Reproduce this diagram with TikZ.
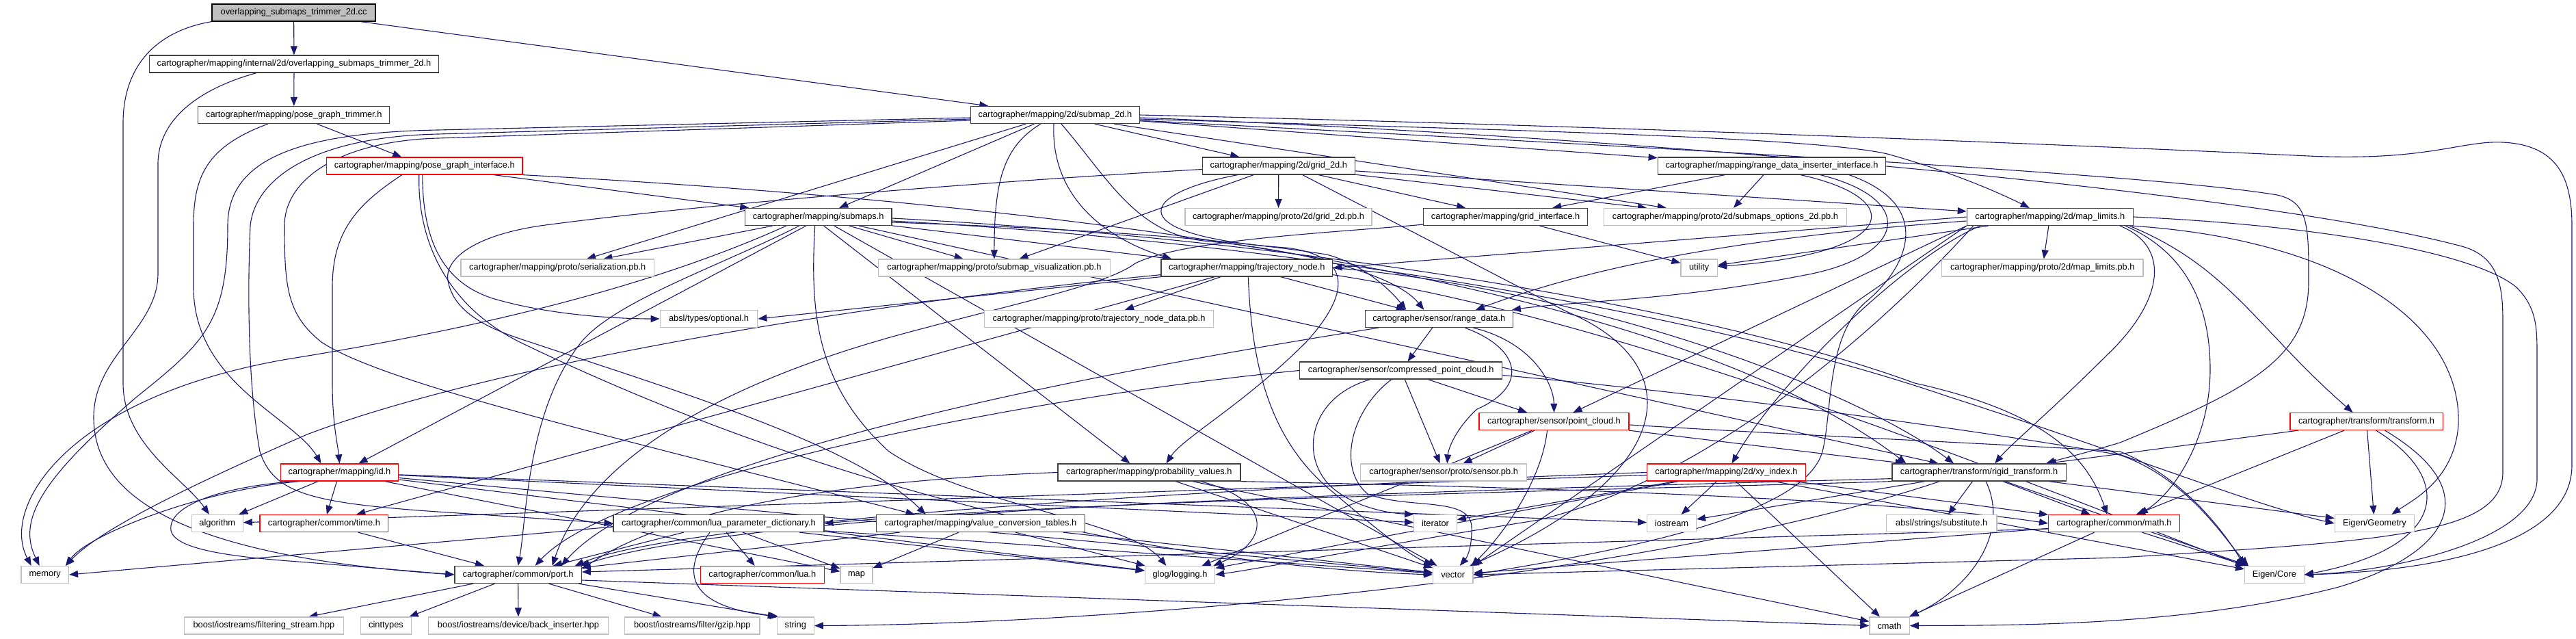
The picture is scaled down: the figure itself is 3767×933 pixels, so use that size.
\documentclass[tikz,border=0pt]{standalone}
\usepackage{fontspec}
\setmainfont{Liberation Sans}
\usetikzlibrary{arrows.meta,calc}
\definecolor{edgec}{HTML}{191970}
\definecolor{nodeb}{HTML}{404040}
\definecolor{grayb}{HTML}{BFBFBF}
\definecolor{redb}{HTML}{FF0000}
\definecolor{rootf}{HTML}{BFBFBF}
\pgfdeclarelayer{bg}
\pgfsetlayers{bg,main}
\begin{document}
\begin{tikzpicture}[x=0.2mm,y=-0.2mm,
  font=\fontsize{7.3}{8.5}\selectfont,
  nb/.style={draw=nodeb, fill=white, line width=0.25mm, minimum height=5mm, inner sep=0pt, text=black},
  gbox/.style={nb},
  xbox/.style={nb, draw=grayb},
  rbox/.style={nb, draw=redb},
  rootbox/.style={nb, fill=rootf, draw=black},
  bw/.style={minimum width=#1*0.2mm},
  edg/.style={draw=edgec, line width=0.22mm, -{Triangle[length=2.6mm,width=2mm]}},
]
\useasboundingbox (0,0) rectangle (3767,933);

% ---------- nodes ----------
\node[rootbox,bw=239] (cc) at (429.6,18.5) {overlapping\_submaps\_trimmer\_2d.cc};
\node[gbox,bw=423] (trim) at (430,93.5) {cartographer/mapping/internal/2d/overlapping\_submaps\_trimmer\_2d.h};
\node[gbox,bw=280] (pgt) at (429.8,168) {cartographer/mapping/pose\_graph\_trimmer.h};
\node[gbox,bw=246.5] (subtwod) at (1543,168) {cartographer/mapping/2d/submap\_2d.h};
\node[rbox,bw=286.4] (pgi) at (620.8,242.5) {cartographer/mapping/pose\_graph\_interface.h};
\node[gbox,bw=222.8] (grid) at (1869.8,242.5) {cartographer/mapping/2d/grid\_2d.h};
\node[gbox,bw=333.5] (rdii) at (2591,242.5) {cartographer/mapping/range\_data\_inserter\_interface.h};
\node[gbox,bw=214.6] (submaps) at (1196.7,317) {cartographer/mapping/submaps.h};
\node[xbox,bw=273] (gridpb) at (1869.5,317) {cartographer/mapping/proto/2d/grid\_2d.pb.h};
\node[gbox,bw=240] (gridif) at (2201.6,317) {cartographer/mapping/grid\_interface.h};
\node[xbox,bw=354.7] (subopt) at (2523,317) {cartographer/mapping/proto/2d/submaps\_options\_2d.pb.h};
\node[gbox,bw=243] (maplim) at (2997.8,317) {cartographer/mapping/2d/map\_limits.h};
\node[xbox,bw=282.8] (serial) at (815.3,391.5) {cartographer/mapping/proto/serialization.pb.h};
\node[xbox,bw=338.8] (subvis) at (1453.9,391.5) {cartographer/mapping/proto/submap\_visualization.pb.h};
\node[gbox,bw=250.6] (traj) at (1823.3,391.5) {cartographer/mapping/trajectory\_node.h};
\node[xbox,bw=53.4] (utility) at (2484.7,391.5) {utility};
\node[xbox,bw=294.4] (maplimpb) at (2986.8,391.5) {cartographer/mapping/proto/2d/map\_limits.pb.h};
\node[xbox,bw=142.5] (optional) at (1036.5,466) {absl/types/optional.h};
\node[xbox,bw=334.3] (tndpb) at (1607,466) {cartographer/mapping/proto/trajectory\_node\_data.pb.h};
\node[gbox,bw=216] (rangedata) at (2104.3,466) {cartographer/sensor/range\_data.h};
\node[gbox,bw=296] (cpc) at (2048.8,541.5) {cartographer/sensor/compressed\_point\_cloud.h};
\node[rbox,bw=219.1] (pc) at (2272.5,616) {cartographer/sensor/point\_cloud.h};
\node[rbox,bw=223.3] (transform) at (3460.5,616) {cartographer/transform/transform.h};
\node[rbox,bw=172.7] (id) at (496.5,690.5) {cartographer/mapping/id.h};
\node[gbox,bw=267] (prob) at (1680.4,690.5) {cartographer/mapping/probability\_values.h};
\node[xbox,bw=242.9] (sensorpb) at (2111.2,690.5) {cartographer/sensor/proto/sensor.pb.h};
\node[rbox,bw=231.8] (xy) at (2524.5,690.5) {cartographer/mapping/2d/xy\_index.h};
\node[gbox,bw=254.2] (rigid) at (2894.1,690.5) {cartographer/transform/rigid\_transform.h};
\node[xbox,bw=74.7] (alg) at (317.8,765) {algorithm};
\node[rbox,bw=187.8] (time) at (473.9,765) {cartographer/common/time.h};
\node[gbox,bw=307.8] (luapd) at (1051,765) {cartographer/common/lua\_parameter\_dictionary.h};
\node[gbox,bw=305.3] (vct) at (1433.9,765) {cartographer/mapping/value\_conversion\_tables.h};
\node[xbox,bw=62.4] (iterator) at (2099,765) {iterator};
\node[xbox,bw=71.8] (iostream) at (2444.5,765) {iostream};
\node[xbox,bw=161.6] (subst) at (2839.2,765) {absl/strings/substitute.h};
\node[rbox,bw=191.7] (math) at (3091.4,765) {cartographer/common/math.h};
\node[xbox,bw=116.1] (egeo) at (3472.4,765) {Eigen/Geometry};
\node[xbox,bw=69.4] (memory) at (65.7,840) {memory};
\node[gbox,bw=185.3] (port) at (757.6,840) {cartographer/common/port.h};
\node[rbox,bw=180.8] (lua) at (1114.9,840) {cartographer/common/lua.h};
\node[xbox,bw=46.9] (map) at (1252.5,840) {map};
\node[xbox,bw=102.4] (glog) at (1725.5,840) {glog/logging.h};
\node[xbox,bw=58.4] (vector) at (2124.7,840) {vector};
\node[xbox,bw=86.7] (ecore) at (3325.9,840) {Eigen/Core};
\node[xbox,bw=233] (fstream) at (385.9,914.5) {boost/iostreams/filtering\_stream.hpp};
\node[xbox,bw=74.3] (cint) at (564.5,914.5) {cinttypes};
\node[xbox,bw=263.7] (backins) at (758,914.5) {boost/iostreams/device/back\_inserter.hpp};
\node[xbox,bw=197.1] (gzip) at (1012.4,914.5) {boost/iostreams/filter/gzip.hpp};
\node[xbox,bw=53.9] (string) at (1163.3,914.5) {string};
\node[xbox,bw=58.3] (cmath) at (2763,914.5) {cmath};

\begin{pgfonlayer}{bg}
% root
\draw[edg] (cc) -- (trim);
\draw[edg] (cc.south west) .. controls (230,45) and (180,95) .. (180,180) -- (180,560) .. controls (180,650) and (270,700) .. ($(alg.north)+(-12,0)$);
\draw[edg] (cc) -- (subtwod);
% trim
\draw[edg] (trim) -- (pgt);
\draw[edg] ($(trim.south)+(-55,0)$) .. controls (290,130) and (231,175) .. (231,240) -- (231,400) .. controls (231,480) and (137,520) .. (137,610) .. controls (137,740) and (300,815) .. (port.west);
% pgt
\draw[edg] (pgt) -- (pgi);
\draw[edg] ($(pgt.south)+(-38,0)$) .. controls (300,215) and (283,260) .. (283,330) -- (283,420) .. controls (283,560) and (430,610) .. ($(id.north)+(-27,0)$);
% pgi
\draw[edg] ($(pgi.south)+(-33,0)$) .. controls (520,300) and (486,340) .. (486,420) -- (486,560) .. controls (486,620) and (494,650) .. (id.north);
\draw[edg] ($(pgi.south)+(-3,0)$) .. controls (618,340) and (640,410) .. (720,436) .. controls (800,460) and (900,466) .. (optional.west);
\draw[edg] ($(pgi.south)+(-8,0)$) .. controls (610,360) and (660,450) .. (760,500) .. controls (1300,760) and (1800,830) .. (vector.west);
\draw[edg] (pgi) -- (submaps);
\draw[edg] (pgi.south east) .. controls (1400,290) and (2400,380) .. ($(rigid.north west)+(21,0)$);
% submap_2d
\draw[edg] ($(subtwod.west)+(0,4)$) -- (640,190) .. controls (420,194) and (333,240) .. (333,330) .. controls (333,470) and (300,500) .. (200,580) .. controls (60,700) and (25,760) .. ($(memory.north)+(-8,0)$);
\draw[edg] ($(subtwod.west)+(0,6)$) -- (640,196) .. controls (460,200) and (373,260) .. (366,330) .. controls (362,420) and (362,560) .. (380,660) .. controls (400,720) and (450,735) .. (640,748) -- (luapd.west);
\draw[edg] ($(subtwod.west)+(0,8)$) -- (640,202) .. controls (500,206) and (416,260) .. (416,330) .. controls (416,420) and (420,460) .. (470,500) .. controls (560,560) and (900,640) .. ($(vct.north west)+(57,0)$);
\draw[edg] (subtwod.east) .. controls (2400,185) and (3100,215) .. (3376,228) .. controls (3550,236) and (3600,205) .. (3660,208) .. controls (3740,212) and (3761,260) .. (3761,330) -- (3761,680) .. controls (3761,800) and (3550,835) .. (ecore.east);
\draw[edg] ($(subtwod.east)+(0,4)$) .. controls (2400,200) and (3300,280) .. (3600,360) .. controls (3655,375) and (3660,420) .. (3660,470) -- (3660,690) .. controls (3660,780) and (3500,790) .. (3100,815) -- (vector.east);
\draw[edg] ($(subtwod.east)+(0,8)$) .. controls (2500,220) and (3150,255) .. (3330,285) .. controls (3376,295) and (3376,330) .. (3376,411) .. controls (3376,520) and (3300,565) .. (3100,647) .. controls (3050,662) and (3010,672) .. ($(rigid.north east)+(-30,0)$);
\draw[edg] ($(subtwod.east)+(0,6)$) .. controls (2200,190) and (2650,200) .. (2760,225) .. controls (2850,250) and (2920,280) .. ($(maplim.north)+(-30,0)$);
\draw[edg] (subtwod) -- (rdii);
\draw[edg] (subtwod) -- (subopt);
\draw[edg] (subtwod) -- (grid);
\draw[edg] (subtwod) -- (submaps);
\draw[edg] (subtwod) -- (serial);
\draw[edg] ($(subtwod.south)+(-21,0)$) .. controls (1465,215) and (1454,270) .. (subvis.north);
\draw[edg] ($(subtwod.south)+(-2,0)$) .. controls (1536,290) and (1620,350) .. ($(traj.north)+(-110,0)$);
\draw[edg] ($(subtwod.south)+(9,0)$) .. controls (1620,260) and (1660,340) .. (1760,352) .. controls (1900,365) and (2040,400) .. ($(rangedata.north)+(-22,0)$);
% grid_2d
\draw[edg] (grid) -- (maplim);
\draw[edg] (grid) -- (gridif);
\draw[edg] (grid) -- (gridpb);
\draw[edg] (grid) -- (subvis);
\draw[edg] (grid) -- (subopt);
\draw[edg] ($(grid.south)+(-60,0)$) .. controls (1655,285) and (1645,345) .. (1880,362) .. controls (1990,375) and (1965,440) .. (1910,500) .. controls (1820,590) and (1730,640) .. ($(prob.north)+(25,0)$);
\draw[edg] ($(grid.west)+(0,5)$) .. controls (1500,262) and (1050,295) .. (790,330) .. controls (690,345) and (650,380) .. (655,410) .. controls (662,450) and (700,475) .. (760,495) .. controls (1000,575) and (1250,650) .. ($(vct.north west)+(73,0)$);
\draw[edg] ($(grid.south)+(35,0)$) -- (2290,455) .. controls (2470,530) and (2460,690) .. ($(vector.north east)+(-5,0)$);
% range_data_inserter_interface
\draw[edg] (rdii) -- (gridif);
\draw[edg] (rdii) -- (subopt);
\draw[edg] ($(rdii.south)+(42,0)$) .. controls (2790,290) and (2780,370) .. ($(utility.east)+(0,-2)$);
\draw[edg] ($(rdii.south)+(71,0)$) .. controls (2800,290) and (2790,370) .. (2650,400) .. controls (2450,440) and (2300,440) .. ($(rangedata.north east)+(-2,0)$);
\draw[edg] ($(rdii.south)+(113,0)$) .. controls (2830,300) and (2790,390) .. (2730,440) .. controls (2670,490) and (2680,600) .. (2665,660) .. controls (2640,750) and (2400,800) .. (vector.east);
% grid_interface
\draw[edg] (gridif) -- (utility);
\draw[edg] ($(gridif.south west)+(0,-2)$) .. controls (1950,340) and (1730,350) .. (1660,385) .. controls (1620,415) and (1500,440) .. (1350,480) .. controls (1000,570) and (850,700) .. ($(port.north)+(50,0)$);
% submaps
\draw[edg] ($(submaps.south)+(-47,0)$) .. controls (950,420) and (700,480) .. (420,525) .. controls (100,580) and (0,740) .. ($(memory.north)+(-20,0)$);
\draw[edg] (submaps) -- (vector);
\draw[edg] ($(submaps.east)+(0,6)$) .. controls (1900,355) and (2500,460) .. (2850,580) .. controls (3100,660) and (3300,740) .. (egeo.west);
\draw[edg] ($(submaps.east)+(0,2)$) .. controls (1900,350) and (2500,450) .. (2800,560) .. controls (2980,600) and (3050,660) .. ($(math.north)+(-10,0)$);
\draw[edg] ($(submaps.south)+(-28,0)$) .. controls (1050,390) and (900,440) .. (850,500) .. controls (770,600) and (770,760) .. (port.north);
\draw[edg] ($(submaps.south)+(-18,0)$) -- ($(id.north)+(28,0)$);
\draw[edg] ($(submaps.south)+(8,0)$) -- ($(prob.north)+(-28,0)$);
\draw[edg] (submaps) -- (serial);
\draw[edg] (submaps) -- (subvis);
\draw[edg] (submaps) -- (traj);
\draw[edg] ($(submaps.east)+(0,8)$) .. controls (1600,335) and (1800,350) .. (1940,372) .. controls (1990,385) and (2030,420) .. ($(rangedata.north)+(-48,0)$);
\draw[edg] (submaps) -- (rigid);
\draw[edg] ($(submaps.south)+(-5,0)$) .. controls (1185,450) and (1190,560) .. (1300,660) .. controls (1420,740) and (1650,760) .. ($(glog.north)+(-20,0)$);
% trajectory_node
\draw[edg] (traj) -- (tndpb);
\draw[edg] (traj) -- (rangedata);
\draw[edg] (traj.south west) -- (optional.east);
\draw[edg] ($(traj.south west)+(0,-3)$) .. controls (1200,450) and (700,540) .. (449,635) .. controls (300,700) and (150,770) .. ($(memory.north east)+(-5,0)$);
\draw[edg] (traj) -- (time);
\draw[edg] ($(traj.south)+(2,0)$) .. controls (1830,520) and (1850,640) .. (1950,720) .. controls (2020,780) and (2060,810) .. (vector.north west);
\draw[edg] ($(traj.south east)+(0,-3)$) .. controls (2400,470) and (3000,720) .. (ecore.north west);
\draw[edg] (traj.east) .. controls (2300,420) and (2700,560) .. ($(rigid.north)+(-37,0)$);
% map_limits
\draw[edg] (maplim) -- (utility);
\draw[edg] (maplim) -- (maplimpb);
\draw[edg] ($(maplim.south west)+(20,0)$) .. controls (2780,380) and (2600,560) .. ($(xy.north)+(8,0)$);
\draw[edg] (maplim.west) -- (traj.east);
\draw[edg] (maplim.south west) -- ($(pc.north)+(28,0)$);
\draw[edg] ($(maplim.west)+(0,6)$) .. controls (2500,350) and (2300,400) .. ($(rangedata.north east)+(-55,0)$);
\draw[edg] ($(maplim.south east)+(-20,0)$) .. controls (3175,360) and (3165,440) .. (3080,520) .. controls (3000,600) and (2940,650) .. ($(rigid.north)+(23,0)$);
\draw[edg] ($(maplim.south east)+(-12,0)$) .. controls (3200,370) and (3232,450) .. (3232,540) .. controls (3232,640) and (3180,720) .. ($(math.north east)+(-60,0)$);
\draw[edg] ($(maplim.south east)+(-6,0)$) .. controls (3260,390) and (3300,480) .. ($(transform.north)+(-20,0)$);
\draw[edg] ($(maplim.south east)+(-2,0)$) .. controls (3420,350) and (3600,470) .. (3595,620) .. controls (3590,700) and (3530,730) .. ($(egeo.north)+(25,0)$);
\draw[edg] (maplim.east) .. controls (3400,330) and (3620,370) .. (3680,420) .. controls (3710,450) and (3710,480) .. (3710,520) -- (3710,700) .. controls (3710,790) and (3500,835) .. (ecore.east);
\draw[edg] (maplim.south west) -- (vector.north east);
\draw[edg] ($(maplim.south west)+(10,0)$) .. controls (2750,480) and (2500,700) .. (2250,760) .. controls (2000,800) and (1850,830) .. (glog.east);
% point_cloud
\draw[edg] (pc) -- (sensorpb);
\draw[edg] ($(pc.south)+(-10,0)$) .. controls (2255,700) and (2200,780) .. ($(vector.north east)+(-3,0)$);
\draw[edg] (pc) -- (glog);
\draw[edg] (pc) -- (rigid);
\draw[edg] ($(pc.east)+(0,5)$) .. controls (2700,640) and (2950,650) .. (3100,660) .. controls (3200,700) and (3260,790) .. (ecore.north west);
% compressed_point_cloud
\draw[edg] (cpc.west) .. controls (1500,580) and (900,700) .. ($(port.north)+(25,0)$);
\draw[edg] ($(cpc.south)+(-45,0)$) .. controls (1915,580) and (1900,665) .. (1945,710) .. controls (1980,742) and (2030,750) .. (iterator.north west);
\draw[edg] ($(cpc.south)+(-14,0)$) .. controls (1975,600) and (1955,685) .. (2000,722) .. controls (2060,745) and (2150,725) .. (2152,770) .. controls (2153,800) and (2145,815) .. ($(vector.north)+(10,0)$);
\draw[edg] (cpc) -- (sensorpb);
\draw[edg] (cpc) -- (pc);
\draw[edg] ($(cpc.east)+(0,7)$) .. controls (2500,575) and (2900,630) .. (3100,665) .. controls (3200,700) and (3255,790) .. ($(ecore.north west)+(6,0)$);
% range_data
\draw[edg] ($(rangedata.south west)+(20,0)$) .. controls (1500,560) and (950,680) .. ($(port.north east)+(-30,0)$);
\draw[edg] (rangedata) -- (cpc);
\draw[edg] ($(rangedata.south)+(50,0)$) .. controls (2240,500) and (2272,560) .. (pc.north);
\draw[edg] ($(rangedata.south)+(38,0)$) .. controls (2225,510) and (2235,565) .. (2160,598) .. controls (2130,625) and (2118,655) .. ($(sensorpb.north)+(5,0)$);
% probability_values
\draw[edg] (prob.west) .. controls (1300,700) and (1000,730) .. ($(port.east)+(0,-8)$);
\draw[edg] ($(prob.south)+(75,0)$) .. controls (1860,730) and (1860,790) .. ($(glog.north east)+(-3,0)$);
\draw[edg] (prob) -- (vector);
\draw[edg] (prob) -- (cmath);
\draw[edg] (prob.south east) .. controls (2400,715) and (2800,735) .. (math.west);
% value_conversion_tables
\draw[edg] (vct) -- (map);
\draw[edg] (vct) -- (vector);
\draw[edg] (vct) -- (port);
\draw[edg] (vct) -- (glog);
% lua_parameter_dictionary
\draw[edg] ($(luapd.west)+(0,5)$) -- (memory.east);
\draw[edg] ($(luapd.south)+(-13,0)$) .. controls (1000,830) and (995,885) .. ($(string.north west)+(3,0)$);
\draw[edg] (luapd) -- (lua);
\draw[edg] (luapd) -- (map);
\draw[edg] (luapd) -- (port);
\draw[edg] (luapd) -- (vector);
\draw[edg] (luapd) -- (glog);
% xy_index
\draw[edg] (xy) -- (alg);
\draw[edg] (xy) -- (cmath);
\draw[edg] (xy) -- (iostream);
\draw[edg] (xy) -- (iterator);
\draw[edg] (xy) -- (ecore);
\draw[edg] (xy) -- (math);
\draw[edg] (xy.west) .. controls (1800,712) and (1000,760) .. ($(port.north east)+(-10,0)$);
\draw[edg] (xy) -- (glog);
% rigid_transform
\draw[edg] ($(rigid.south)+(10,0)$) .. controls (2940,780) and (2880,860) .. (cmath.north east);
\draw[edg] (rigid) -- (iostream);
\draw[edg] ($(rigid.south west)+(70,0)$) .. controls (2400,850) and (1600,913) .. (string.east);
\draw[edg] (rigid) -- (ecore);
\draw[edg] (rigid) -- (egeo);
\draw[edg] (rigid) -- (subst);
\draw[edg] (rigid.south west) .. controls (2400,715) and (1600,730) .. (luapd.east);
\draw[edg] ($(rigid.south west)+(0,-4)$) .. controls (2000,720) and (1100,745) .. ($(port.north east)+(-2,0)$);
\draw[edg] (rigid) -- (math);
% transform
\draw[edg] (transform) -- (rigid);
\draw[edg] (transform) -- (math);
\draw[edg] (transform) -- (egeo);
\draw[edg] ($(transform.south)+(14,0)$) .. controls (3590,700) and (3580,800) .. (ecore.east);
\draw[edg] ($(transform.south)+(27,0)$) .. controls (3640,720) and (3580,810) .. (3420,858) .. controls (3200,915) and (2950,914) .. (cmath.east);
% math
\draw[edg] (math) -- (cmath);
\draw[edg] (math) -- (ecore);
\draw[edg] (math) -- (vector);
\draw[edg] ($(math.west)+(0,8)$) -- ($(port.east)+(0,-4)$);
% id
\draw[edg] ($(id.south west)+(29,0)$) .. controls (300,715) and (130,780) .. ($(memory.north east)+(-5,0)$);
\draw[edg] (id) -- (alg);
\draw[edg] (id) -- (time);
\draw[edg] ($(id.south west)+(20,0)$) .. controls (320,712) and (245,740) .. (250,775) .. controls (255,805) and (350,815) .. (450,822) -- (port.west);
\draw[edg] (id) -- (iterator);
\draw[edg] (id) -- (iostream);
\draw[edg] (id) -- (vector);
\draw[edg] (id) -- (map);
\draw[edg] (id) -- (glog);
% time
\draw[edg] (time) -- (port);
% port
\draw[edg] (port) -- (fstream);
\draw[edg] (port) -- (cint);
\draw[edg] (port) -- (backins);
\draw[edg] (port) -- (gzip);
\draw[edg] ($(port.south east)+(-5,0)$) -- (string.north west);
\draw[edg] ($(port.east)+(0,8)$) -- (cmath.west);
\end{pgfonlayer}
\end{tikzpicture}
\end{document}
